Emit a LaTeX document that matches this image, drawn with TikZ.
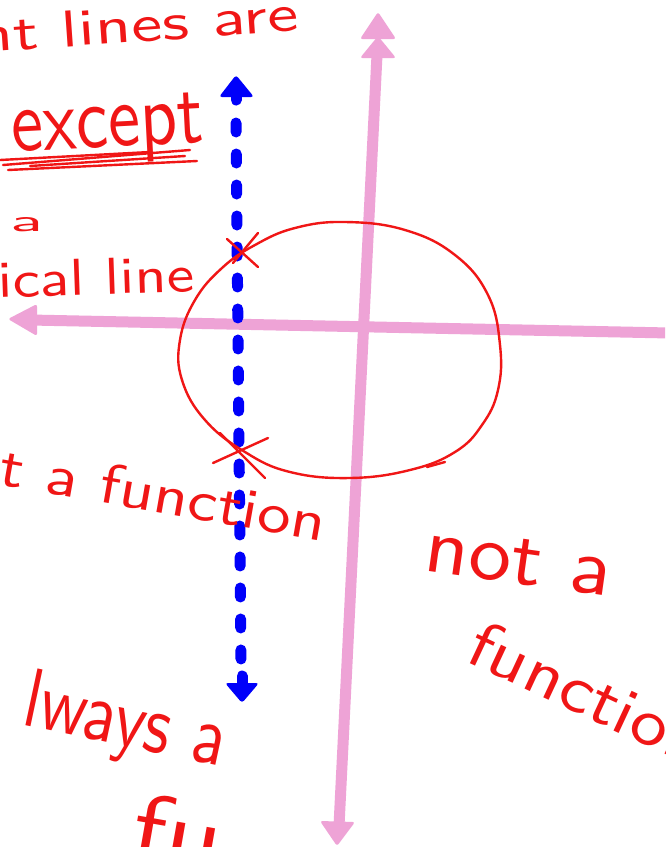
\documentclass[tikz,border=0pt]{standalone}
\usepackage{fontspec}
\usepackage{graphicx}
\definecolor{axpink}{RGB}{238,163,214}
\definecolor{inkred}{RGB}{240,22,22}
\definecolor{inkblue}{RGB}{0,0,250}
\newcommand\hwtxt[3]{\resizebox{#1pt}{#2pt}{\sffamily #3}}
\tikzset{
  hand/.style={inkred, line width=2.4pt, line cap=round, line join=round},
  word/.style={inkred, inner sep=0pt, anchor=base west},
  axisline/.style={axpink, line width=11pt},
  axishead/.style={axpink, rounded corners=2.5pt},
  blueline/.style={inkblue, line width=11pt, line cap=round},
  bluehead/.style={inkblue, rounded corners=3pt}
}
\begin{document}
\begin{tikzpicture}[x=1pt,y=-1pt]
\useasboundingbox (0,0) rectangle (665,847);
\fill[white] (0,0) rectangle (665,847);
\clip (0,0) rectangle (665,847);

% pink axes
\draw[axisline] (377,55) -- (339,826);
\fill[axishead] (378,12) -- (396,39) -- (360,39) -- cycle;
\fill[axishead] (378,36) -- (396,58) -- (360,58) -- cycle;
\fill[axishead] (337,846) -- (355,822) -- (320,821) -- cycle;
\draw[axisline] (30,320) -- (670,333);
\fill[axishead] (8,319) -- (37,304) -- (37,336) -- cycle;

% blue dashed vertical line
\draw[blueline, dash pattern=on 9pt off 22pt] (236,123) -- (241,660);
\fill[bluehead] (236,75) -- (254,97) -- (219,97) -- cycle;
\draw[blueline] (236,92) -- (236,100);
\fill[bluehead] (242,703) -- (259,683) -- (225,683) -- cycle;
\draw[blueline] (242,676) -- (242,688);

% red circle
\draw[hand] plot[smooth cycle, tension=0.7] coordinates {
  (345,222) (405,230) (455,255) (488,295) (500,345) (498,390) (482,425)
  (455,452) (410,470) (350,478) (290,472) (245,452) (205,420) (182,380)
  (180,340) (195,300) (222,268) (255,245) (295,228)};
\draw[hand] (427,467) -- (445,462);

% crosses
\draw[hand] (227,239) -- (258,267);
\draw[hand] (258,233) -- (233,263);
\draw[hand] (220,433) -- (265,478);
\draw[hand] (213,463) -- (268,438);

% underline scribble
\draw[hand] (3,165) -- (190,150);
\draw[hand] (8,170) -- (197,161);
\draw[hand] (30,166) -- (185,156);
\draw[hand] (0,160) -- (150,152);

% words
\node[word, rotate=4] (w1) at (-22,53) {\hwtxt{322}{36}{nt lines are}};
\node[word, rotate=3] (w2) at (12,152) {\hwtxt{193}{50}{except}};
\node[word] (w3) at (10,231) {\hwtxt{33}{14}{a}};
\node[word, rotate=2] (w4) at (-2,298) {\hwtxt{197}{36}{ical line}};
\node[word, rotate=-10] (w5) at (-3,484) {\hwtxt{330}{40}{t a function}};
\node[word, rotate=-8] (w6) at (422,570) {\hwtxt{188}{45}{not a}};
\node[word, rotate=-25] (w7) at (463,660) {\hwtxt{255}{47}{function}};
\node[word, rotate=-12] (w8) at (20,724) {\hwtxt{205}{58}{lways a}};
\node[word, rotate=-10] (w9) at (128,856) {\hwtxt{90}{66}{fu}};
\end{tikzpicture}
\end{document}
